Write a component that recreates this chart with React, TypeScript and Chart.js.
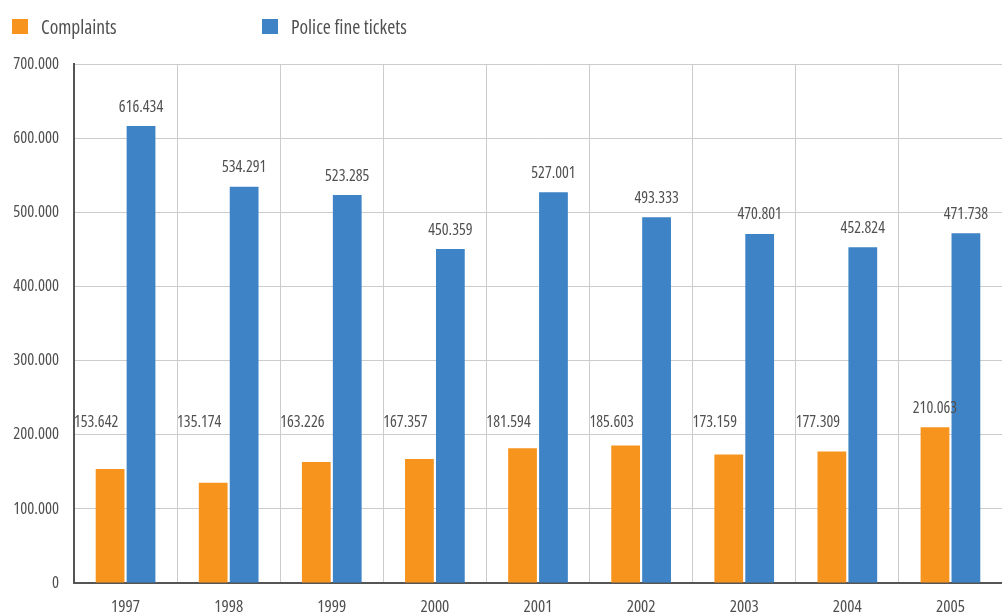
import React, { useEffect, useRef } from "react";
import { Chart, registerables } from "chart.js";

Chart.register(...registerables);

const years = ["1997", "1998", "1999", "2000", "2001", "2002", "2003", "2004", "2005"];
const complaints = [153642, 135174, 163226, 167357, 181594, 185603, 173159, 177309, 210063];
const tickets = [616434, 534291, 523285, 450359, 527001, 493333, 470801, 452824, 471738];
const seriesNames = ["Complaints", "Police fine tickets"];
const seriesColors = ["#f7941e", "#3d83c5"];

const FAMILY = '"Open Sans", "Roboto Condensed", sans-serif';
const TEXT = "#505050";

const fmt = (v: number) => String(Math.round(v)).replace(/\B(?=(\d{3})+(?!\d))/g, ".");

const labelPlugin = {
  id: "valueLabels",
  afterDatasetsDraw(chart: any) {
    const ctx = chart.ctx;
    const yScale = chart.scales.y;
    ctx.save();
    ctx.font = `condensed 16px ${FAMILY}`;
    ctx.fillStyle = TEXT;
    ctx.textAlign = "center";
    ctx.textBaseline = "middle";
    const cap = yScale.getPixelForValue(217000);
    chart.data.datasets.forEach((ds: any, di: number) => {
      const meta = chart.getDatasetMeta(di);
      meta.data.forEach((bar: any, i: number) => {
        const txt = fmt(ds.data[i]);
        let x = bar.x;
        let y = bar.y - 19;
        if (di === 0 && y > cap) {
          y = cap;
          x = bar.x - 14;
        }
        ctx.fillText(txt, x, y);
      });
    });
    ctx.restore();
  },
};

export default function App() {
  const ref = useRef<HTMLCanvasElement>(null);
  useEffect(() => {
    document.body.style.margin = "0";
    const chart = new Chart(ref.current!, {
      type: "bar",
      data: {
        labels: years,
        datasets: [
          { label: seriesNames[0], data: complaints, backgroundColor: seriesColors[0], borderWidth: 0 },
          { label: seriesNames[1], data: tickets, backgroundColor: seriesColors[1], borderWidth: 0 },
        ],
      },
      options: {
        animation: false,
        responsive: false,
        events: [],
        layout: { padding: { top: 64, left: 0, right: 0, bottom: 0 } },
        datasets: { bar: { categoryPercentage: 0.6, barPercentage: 0.93 } },
        plugins: { legend: { display: false }, tooltip: { enabled: false } },
        scales: {
          x: {
            grid: { color: "#cccccc", lineWidth: 1, drawTicks: false, offset: true },
            border: { color: "#555555", width: 2 },
            ticks: { color: TEXT, font: { family: FAMILY, size: 17, weight: "condensed" as any }, padding: 14 },
            afterFit: (s: any) => { s.height = 32; },
          },
          y: {
            min: 0,
            max: 700000,
            grid: { color: "#cccccc", lineWidth: 1, drawTicks: false },
            border: { color: "#555555", width: 2 },
            ticks: {
              stepSize: 100000,
              color: TEXT,
              font: { family: FAMILY, size: 16.5, weight: "condensed" as any },
              padding: 15,
              callback: (v: any) => fmt(Number(v)),
            },
            afterFit: (s: any) => { s.width = 74; },
          },
        },
      },
      plugins: [labelPlugin],
    });
    return () => chart.destroy();
  }, []);

  return (
    <div style={{ position: "relative", width: 1002, height: 615 }}>
      <canvas ref={ref} width={1002} height={615} style={{ display: "block" }} />
      {seriesNames.map((n, i) => (
        <div
          key={n}
          style={{
            position: "absolute",
            left: i === 0 ? 12 : 262,
            top: 14,
            height: 24,
            display: "flex",
            alignItems: "center",
            fontFamily: FAMILY,
            fontStretch: "condensed",
            fontSize: 19.5,
            color: TEXT,
            whiteSpace: "nowrap",
          }}
        >
          <span style={{ display: "inline-block", width: 16, height: 15, background: seriesColors[i], marginRight: 13 }} />
          <span>{n}</span>
        </div>
      ))}
    </div>
  );
}
